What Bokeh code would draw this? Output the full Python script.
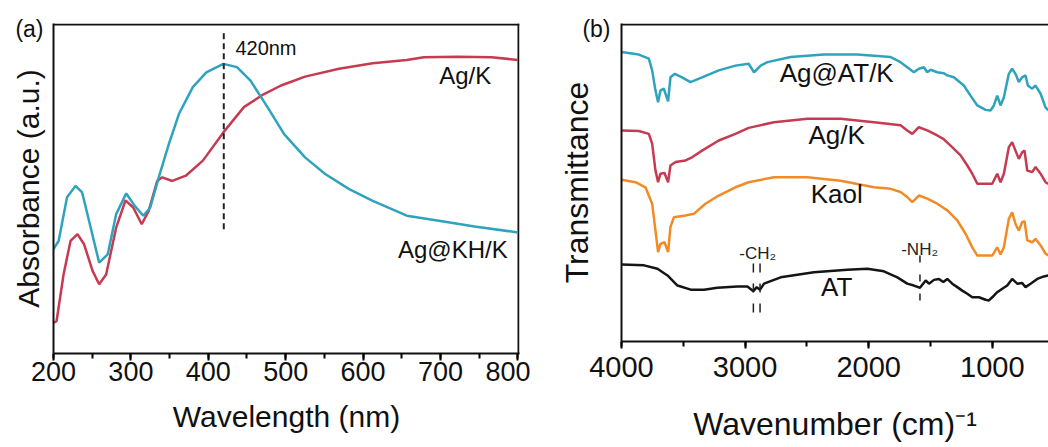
from bokeh.plotting import figure
from bokeh.layouts import row, column
from bokeh.models import Range1d, SingleIntervalTicker, FixedTicker
from bokeh.core.properties import value
from bokeh.embed import file_html
from bokeh.resources import INLINE

# ---------------- Panel (a): UV-vis absorbance ----------------
uv_kh_wl = [200, 206.6, 217.5, 228.5, 237, 248, 259, 270, 281, 294, 305, 316, 325, 336, 349, 362,
            380, 397.5, 419.5, 437, 454.5, 476.5, 498, 525, 551, 582, 612.5, 656.5, 700, 744, 800]
uv_kh_abs = [0.318, 0.343, 0.476, 0.511, 0.491, 0.384, 0.277, 0.302, 0.425, 0.488, 0.450, 0.420, 0.445,
             0.537, 0.638, 0.730, 0.812, 0.857, 0.883, 0.873, 0.832, 0.751, 0.669, 0.598, 0.547, 0.501,
             0.465, 0.420, 0.404, 0.387, 0.369]
uv_agk_wl = [200, 204, 213, 222, 231, 239.5, 250.5, 259, 268, 281, 293, 303, 314, 323, 334, 340.5, 353.6,
             371, 393, 419.5, 446, 472, 494, 525, 569, 612.5, 656.5, 678.5, 722, 766, 800]
uv_agk_abs = [0.094, 0.099, 0.241, 0.343, 0.364, 0.333, 0.252, 0.211, 0.241, 0.384, 0.467, 0.445, 0.394,
              0.435, 0.526, 0.537, 0.526, 0.542, 0.588, 0.674, 0.751, 0.791, 0.817, 0.844, 0.868, 0.885,
              0.895, 0.903, 0.905, 0.903, 0.895]
peak_wl = 420

# ---------------- Panel (b): FTIR transmittance ----------------
ir_agat_wn = [4000, 3860, 3779, 3752, 3725, 3704, 3685, 3658, 3623, 3604, 3569, 3510, 3442, 3348, 3213,
              3078, 2971, 2928, 2874, 2819, 2631, 2362, 2092, 1822, 1742, 1688, 1634, 1594, 1553, 1526,
              1499, 1445, 1391, 1364, 1311, 1230, 1176, 1121, 1054, 1014, 987, 960, 933, 906, 866, 839,
              812, 785, 758, 731, 712, 677, 650, 609, 569, 545]
ir_agat_t = [0.916, 0.908, 0.895, 0.858, 0.794, 0.757, 0.794, 0.800, 0.760, 0.836, 0.847, 0.836, 0.821,
             0.836, 0.858, 0.873, 0.879, 0.852, 0.873, 0.884, 0.900, 0.908, 0.908, 0.900, 0.884, 0.868,
             0.852, 0.863, 0.868, 0.852, 0.860, 0.852, 0.849, 0.842, 0.836, 0.810, 0.778, 0.747, 0.733,
             0.731, 0.747, 0.778, 0.747, 0.773, 0.847, 0.863, 0.847, 0.821, 0.836, 0.842, 0.810, 0.800,
             0.810, 0.784, 0.741, 0.731]
ir_agk_wn = [4000, 3860, 3779, 3752, 3725, 3704, 3685, 3652, 3623, 3604, 3563, 3482, 3429, 3348, 3213,
             3078, 2971, 2766, 2496, 2227, 1957, 1742, 1688, 1647, 1594, 1526, 1445, 1396, 1337, 1256,
             1202, 1162, 1121, 1000, 960, 933, 906, 866, 839, 812, 785, 758, 739, 717, 677, 650, 609,
             569, 545]
ir_agk_t = [0.668, 0.666, 0.657, 0.626, 0.541, 0.504, 0.531, 0.533, 0.504, 0.557, 0.568, 0.573, 0.583,
            0.604, 0.636, 0.657, 0.676, 0.694, 0.705, 0.705, 0.694, 0.684, 0.668, 0.657, 0.678, 0.668,
            0.652, 0.641, 0.620, 0.589, 0.557, 0.531, 0.499, 0.499, 0.531, 0.504, 0.531, 0.615, 0.631,
            0.604, 0.578, 0.599, 0.604, 0.541, 0.536, 0.552, 0.531, 0.504, 0.499]
ir_kaol_wn = [4000, 3887, 3806, 3752, 3725, 3704, 3685, 3652, 3623, 3604, 3577, 3482, 3415, 3321, 3213,
              3078, 2971, 2766, 2496, 2227, 1957, 1822, 1742, 1688, 1647, 1594, 1526, 1445, 1364, 1283,
              1216, 1162, 1121, 1000, 960, 933, 906, 866, 839, 812, 785, 758, 739, 717, 677, 650, 609,
              569, 545]
ir_kaol_t = [0.512, 0.504, 0.488, 0.436, 0.351, 0.283, 0.309, 0.314, 0.283, 0.362, 0.393, 0.399, 0.404,
             0.436, 0.462, 0.488, 0.504, 0.520, 0.520, 0.509, 0.488, 0.483, 0.473, 0.457, 0.441, 0.462,
             0.452, 0.436, 0.415, 0.383, 0.341, 0.298, 0.272, 0.272, 0.298, 0.275, 0.298, 0.388, 0.409,
             0.372, 0.351, 0.378, 0.381, 0.320, 0.314, 0.325, 0.304, 0.278, 0.272]
ir_at_wn = [4000, 3817, 3709, 3628, 3547, 3440, 3332, 3224, 3062, 2981, 2933, 2906, 2879, 2847, 2712,
            2443, 2173, 2011, 1877, 1768, 1688, 1634, 1585, 1539, 1512, 1472, 1432, 1396, 1364, 1324,
            1283, 1243, 1202, 1162, 1108, 1054, 1027, 1000, 960, 919, 879, 839, 798, 758, 731, 690,
            636, 582, 545]
ir_at_t = [0.244, 0.241, 0.230, 0.209, 0.177, 0.164, 0.164, 0.170, 0.174, 0.174, 0.159, 0.172, 0.164,
           0.183, 0.203, 0.219, 0.227, 0.230, 0.222, 0.203, 0.183, 0.177, 0.170, 0.193, 0.183, 0.195,
           0.198, 0.188, 0.198, 0.183, 0.172, 0.161, 0.151, 0.140, 0.140, 0.132, 0.130, 0.140, 0.156,
           0.167, 0.177, 0.198, 0.183, 0.185, 0.172, 0.183, 0.198, 0.206, 0.209]
ch2_wn = [2933, 2879]
nh2_wn = [1585]
panel_tags = ["(a)", "(b)"]

CYAN = "#2fa3be"
RED = "#c63a52"
ORANGE = "#f28b26"
BLACK = "#151515"
FONT = "Liberation Sans"
INK = "#111111"


def style_axes(p, tick_size, label_size, tag, tag_y):
    for ax in p.xaxis:
        ax.major_label_text_font = FONT
        ax.major_label_text_font_size = tick_size
        ax.major_label_text_color = INK
        ax.axis_label_text_font = FONT
        ax.axis_label_text_font_size = label_size
        ax.axis_label_text_font_style = "normal"
        ax.axis_label_text_color = INK
        ax.axis_line_width = 2
        ax.axis_line_color = INK
        ax.major_tick_line_width = 2
        ax.minor_tick_line_width = 2
        ax.major_tick_in = 0
        ax.major_tick_out = 7
        ax.minor_tick_in = 0
        ax.minor_tick_out = 5
    for ax in p.yaxis:
        # the panel tag "(a)"/"(b)" sits at the top-left corner, written as the only tick label
        ax.ticker = FixedTicker(ticks=[tag_y])
        ax.major_label_overrides = {tag_y: tag}
        ax.major_label_text_font = FONT
        ax.major_label_text_font_size = "23px"
        ax.major_label_text_color = INK
        ax.axis_label_text_font = FONT
        ax.axis_label_text_font_size = label_size
        ax.axis_label_text_font_style = "normal"
        ax.axis_label_text_color = INK
        ax.axis_line_width = 2
        ax.axis_line_color = INK
        ax.major_tick_out = 0
        ax.major_tick_in = 0
        ax.minor_tick_out = 0
        ax.minor_tick_in = 0
    p.xgrid.visible = False
    p.ygrid.visible = False
    p.outline_line_color = None
    p.background_fill_color = "white"
    p.border_fill_color = "white"


# ---------- figure (a) ----------
xa0, xa1 = 200, 802.1
ya0, ya1 = 0, 1.006
pa = figure(width=530, height=447, output_backend="svg", toolbar_location=None,
            x_range=Range1d(xa0, xa1), y_range=Range1d(ya0, ya1),
            min_border_left=53, min_border_right=11, min_border_top=23, min_border_bottom=94,
            x_axis_label="Wavelength (nm)", y_axis_label="Absorbance (a.u.)")
pa.xaxis.ticker = SingleIntervalTicker(interval=100, num_minor_ticks=2)
style_axes(pa, "27px", "30px", panel_tags[0], 0.99)
pa.xaxis.major_label_standoff = 1
pa.xaxis.axis_label_standoff = 16
pa.yaxis.major_label_standoff = 10
pa.yaxis.axis_label_standoff = -33

# frame border (top and right)
pa.line([xa0, xa1], [1.003, 1.003], line_color=INK, line_width=2)
pa.line([800.8, 800.8], [ya0, ya1], line_color=INK, line_width=2)

pa.line(uv_agk_wl, uv_agk_abs, line_color=RED, line_width=2.5)
pa.line(uv_kh_wl, uv_kh_abs, line_color=CYAN, line_width=2.5)
pa.line([peak_wl, peak_wl], [0.976, 0.379], line_color="#222222", line_width=2, line_dash="6 4")

pa.text(x=[435], y=[0.930], text=["420nm"], text_font=value(FONT), text_font_size="20px",
        text_align="left", text_baseline="middle", text_color=INK)
pa.text(x=[732], y=[0.847], text=["Ag/K"], text_font=value(FONT), text_font_size="24px",
        text_align="center", text_baseline="middle", text_color=INK)
pa.text(x=[716], y=[0.318], text=["Ag@KH/K"], text_font=value(FONT), text_font_size="24px",
        text_align="center", text_baseline="middle", text_color=INK)

# ---------- figure (b) ----------
xb0, xb1 = 4000, 545
yb0, yb1 = 0, 1.0063
pb = figure(width=518, height=447, output_backend="svg", toolbar_location=None,
            x_range=Range1d(xb0, xb1), y_range=Range1d(yb0, yb1),
            min_border_left=91, min_border_right=0, min_border_top=23, min_border_bottom=106,
            x_axis_label="Wavenumber (cm)\u207b\u00b9", y_axis_label="Transmittance")
pb.xaxis.ticker = SingleIntervalTicker(interval=1000, num_minor_ticks=2)
style_axes(pb, "29px", "32px", panel_tags[1], 0.99)
pb.xaxis.major_label_standoff = 8
pb.xaxis.axis_label_standoff = 26
pb.yaxis.major_label_standoff = 11
pb.yaxis.axis_label_standoff = -16

# frame border (top)
pb.line([xb0, xb1], [1.003, 1.003], line_color=INK, line_width=2)

pb.line(ir_agat_wn, ir_agat_t, line_color=CYAN, line_width=2.5)
pb.line(ir_agk_wn, ir_agk_t, line_color=RED, line_width=2.5)
pb.line(ir_kaol_wn, ir_kaol_t, line_color=ORANGE, line_width=2.5)
pb.line(ir_at_wn, ir_at_t, line_color=BLACK, line_width=2.5)

for wn in ch2_wn:
    pb.line([wn, wn], [0.247, 0.089], line_color="#222222", line_width=1.5, line_dash="9 11")
for wn in nh2_wn:
    pb.line([wn, wn], [0.272, 0.114], line_color="#222222", line_width=1.5, line_dash="7 12")

for txt, yy in [("Ag@AT/K", 0.851), ("Ag/K", 0.652), ("Kaol", 0.468), ("AT", 0.171)]:
    pb.text(x=[2259], y=[yy], text=[txt], text_font=value(FONT), text_font_size="26px",
            text_align="center", text_baseline="middle", text_color=INK)
pb.text(x=[2898], y=[0.278], text=["-CH\u2082"], text_font=value(FONT), text_font_size="17px",
        text_align="center", text_baseline="middle", text_color="#222222")
pb.text(x=[1588], y=[0.291], text=["-NH\u2082"], text_font=value(FONT), text_font_size="17px",
        text_align="center", text_baseline="middle", text_color="#222222")

layout = row(column(pa), column(pb), spacing=0)
open("out.html", "w").write(file_html(layout, INLINE))
